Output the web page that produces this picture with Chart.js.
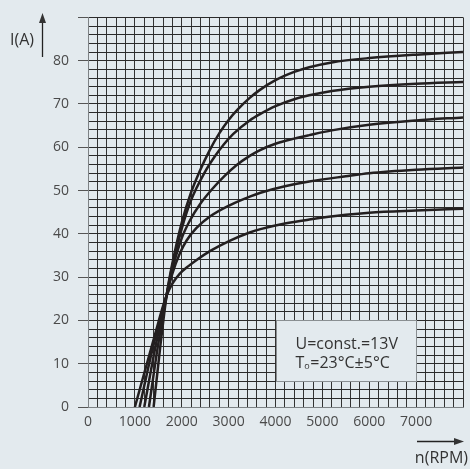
<!DOCTYPE html>
<html>
<head>
<meta charset="utf-8">
<script src="https://cdn.jsdelivr.net/npm/chart.js@4.4.1/dist/chart.umd.min.js"></script>
<style>
  html, body { margin: 0; padding: 0; background: #e3eaee; }
  canvas { display: block; }
</style>
</head>
<body>
<canvas id="chart" width="470" height="469"></canvas>
<script>
"use strict";

// speed (RPM) and output current (A), one pair of arrays per curve
const rpm82 = [1400, 1540, 1680, 1800, 2000, 2200, 2380, 2600, 2800, 3000, 3200, 3450, 3660, 4000, 4400, 4720, 5200, 6000, 7000, 8000];
const amp82 = [0, 13.8, 26, 33.2, 42.6, 49.6, 54.4, 59.4, 63.2, 66.3, 68.8, 71.4, 73.2, 75.5, 77.4, 78.5, 79.6, 80.6, 81.4, 82];

const rpm75 = [1300, 1490, 1680, 1800, 2000, 2200, 2490, 2700, 2900, 3100, 3450, 3660, 4000, 4400, 4720, 5200, 6000, 7000, 8000];
const amp75 = [0, 14, 26, 32.6, 41.2, 47.8, 54.2, 57.8, 60.7, 63.1, 66.2, 67.6, 69.5, 71.1, 72.0, 73.0, 74.0, 74.7, 75.1];

const rpm67 = [1200, 1440, 1680, 1800, 2000, 2170, 2400, 2670, 2915, 3160, 3450, 3660, 4000, 4400, 4720, 5200, 6000, 7000, 8000];
const amp67 = [0, 14, 26, 31.8, 39.0, 43.0, 47.0, 50.6, 53.4, 55.8, 58.0, 59.3, 60.8, 62.0, 62.8, 63.9, 65.2, 66.2, 66.9];

const rpm55 = [1100, 1390, 1680, 1800, 1960, 2100, 2310, 2600, 3020, 3450, 3680, 4200, 4720, 5500, 6000, 7000, 8000];
const amp55 = [0, 14, 26, 30.8, 35.5, 38.4, 41.3, 44.0, 46.6, 48.6, 49.5, 51.0, 52.1, 53.3, 54.0, 54.8, 55.3];

const rpm45 = [1000, 1500, 1600, 1680, 1800, 1960, 2150, 2310, 2600, 3020, 3450, 3680, 4200, 4720, 5500, 6000, 7000, 8000];
const amp45 = [0, 19.5, 23.3, 25.8, 28.5, 30.8, 32.6, 33.9, 36.0, 38.4, 40.3, 41.1, 42.4, 43.3, 44.4, 44.9, 45.4, 45.8];

// labelled ticks
const rpmLabels = [0, 1000, 2000, 3000, 4000, 5000, 6000, 7000];
const ampLabels = [0, 10, 20, 30, 40, 50, 60, 70, 80];

const legendLines = ["U=const.=13V", "T", "=23°C±5°C"];

const bg = "#e3eaee";
const ink = "#231f20";
const textColor = "#4a4a4a";
const font = "'Open Sans', 'Noto Sans', sans-serif";

function toPoints(xs, ys) {
  return xs.map((x, i) => ({ x: x, y: ys[i] }));
}

function curve(xs, ys) {
  return {
    data: toPoints(xs, ys),
    showLine: true,
    borderColor: ink,
    borderWidth: 2.5,
    pointRadius: 0,
    cubicInterpolationMode: "monotone",
    fill: false
  };
}

function arrow(ctx, x1, y1, x2, y2) {
  const a = Math.atan2(y2 - y1, x2 - x1);
  const len = 10, half = 3.5;
  const bx = x2 - len * Math.cos(a), by = y2 - len * Math.sin(a);
  ctx.beginPath();
  ctx.moveTo(x1, y1);
  ctx.lineTo(bx, by);
  ctx.stroke();
  ctx.beginPath();
  ctx.moveTo(x2, y2);
  ctx.lineTo(bx + half * Math.sin(a), by - half * Math.cos(a));
  ctx.lineTo(bx - half * Math.sin(a), by + half * Math.cos(a));
  ctx.closePath();
  ctx.fill();
}

const decor = {
  id: "decor",
  beforeDatasetsDraw(chart) {
    const { ctx, scales: { x, y } } = chart;
    const l = Math.round(x.getPixelForValue(4000)) + 0.5;
    const r = Math.round(x.getPixelForValue(7000)) + 0.5;
    const t = Math.round(y.getPixelForValue(20)) + 0.5;
    const b = Math.round(y.getPixelForValue(6)) + 0.5;
    ctx.save();
    ctx.fillStyle = bg;
    ctx.fillRect(l - 0.5, t - 0.5, r - l + 1, b - t + 1);
    ctx.strokeStyle = "#8a8f92";
    ctx.lineWidth = 1;
    ctx.strokeRect(l, t, r - l, b - t);

    ctx.fillStyle = "#333";
    ctx.textBaseline = "alphabetic";
    ctx.textAlign = "left";
    ctx.font = "16px " + font;
    const tx = l + 19;
    ctx.fillText(legendLines[0], tx, t + 28);
    ctx.fillText(legendLines[1], tx, t + 47);
    const wT = ctx.measureText(legendLines[1]).width;
    ctx.font = "9px " + font;
    ctx.fillText("o", tx + wT, t + 48);
    const wo = ctx.measureText("o").width;
    ctx.font = "16px " + font;
    ctx.fillText(legendLines[2], tx + wT + wo + 0.5, t + 47);
    ctx.restore();
  },
  afterDraw(chart) {
    const ctx = chart.ctx;
    ctx.save();
    ctx.fillStyle = "#333";
    ctx.strokeStyle = "#222";
    ctx.lineWidth = 1.3;
    ctx.font = "16px " + font;
    ctx.textBaseline = "middle";
    ctx.textAlign = "left";
    ctx.fillText("I(A)", 10, 40);
    arrow(ctx, 42.5, 57, 42.5, 13);
    ctx.textAlign = "right";
    ctx.textBaseline = "alphabetic";
    ctx.fillText("n(RPM)", 468, 463);
    arrow(ctx, 417, 441.5, 464, 441.5);
    ctx.restore();
  }
};

new Chart(document.getElementById("chart"), {
  type: "scatter",
  data: {
    datasets: [
      curve(rpm82, amp82),
      curve(rpm75, amp75),
      curve(rpm67, amp67),
      curve(rpm55, amp55),
      curve(rpm45, amp45)
    ]
  },
  options: {
    responsive: false,
    animation: false,
    layout: { padding: { top: 12, right: 6, left: 0, bottom: 0 } },
    plugins: {
      legend: { display: false },
      tooltip: { enabled: false }
    },
    scales: {
      x: {
        type: "linear",
        min: 0,
        max: 8000,
        afterFit: s => { s.height = 62; },
        border: { color: "#7d8285", width: 1 },
        grid: { color: "#333333", lineWidth: 1, drawTicks: false },
        ticks: {
          stepSize: 200,
          autoSkip: false,
          maxRotation: 0,
          padding: 7,
          color: textColor,
          font: { family: font, size: 14 },
          callback: v => rpmLabels.includes(v) ? String(v) : ""
        }
      },
      y: {
        type: "linear",
        min: 0,
        max: 90,
        afterFit: s => { s.width = 88; },
        border: { color: "#7d8285", width: 1 },
        grid: {
          color: "#2b2b2b",
          lineWidth: 1,
          tickLength: 10,
          tickColor: c => (c.tick && c.tick.value % 10 === 0) ? "#555" : "rgba(0,0,0,0)"
        },
        ticks: {
          stepSize: 2,
          autoSkip: false,
          padding: 9,
          color: textColor,
          font: { family: font, size: 14 },
          callback: v => ampLabels.includes(v) ? String(v) : ""
        }
      }
    }
  },
  plugins: [decor]
});
</script>
</body>
</html>
